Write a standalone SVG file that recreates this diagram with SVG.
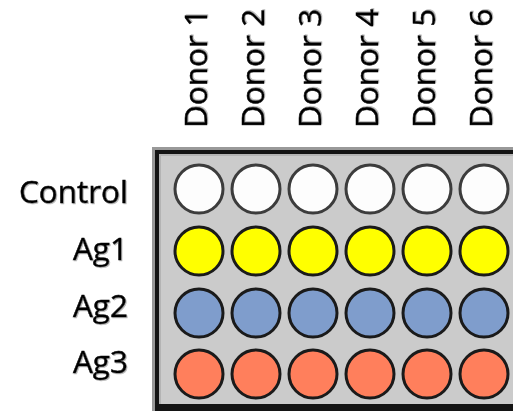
<svg xmlns="http://www.w3.org/2000/svg" width="513" height="411" viewBox="0 0 513 411">
  <style>
    .lbl { font-family: "Open Sans", "Liberation Sans", sans-serif; font-size: 31.5px; fill: #000; stroke: #000; stroke-width: 0.5; filter: url(#soft); }
    .row { text-anchor: end; }
    .well { stroke-width: 3; }
    .ctrl { fill: #fdfdfd; stroke: #3c3c3c; }
    .ag1 { fill: #ffff00; stroke: #1a1a1a; }
    .ag2 { fill: #7f9dcc; stroke: #1a1a1a; }
    .ag3 { fill: #ff7f5c; stroke: #1a1a1a; }
  </style>
  <defs>
    <filter id="soft" x="-10%" y="-10%" width="130%" height="130%">
      <feDropShadow dx="1" dy="1" stdDeviation="0.6" flood-color="#808080" flood-opacity="0.55"/>
    </filter>
    <circle id="w" r="24"/>
  </defs>
  <rect width="513" height="411" fill="#ffffff"/>

  <!-- column headings -->
  <g id="donors">
    <text class="lbl" transform="translate(207,128) rotate(-90)">Donor 1</text>
    <text class="lbl" transform="translate(264,128) rotate(-90)">Donor 2</text>
    <text class="lbl" transform="translate(321,128) rotate(-90)">Donor 3</text>
    <text class="lbl" transform="translate(378,128) rotate(-90)">Donor 4</text>
    <text class="lbl" transform="translate(435,128) rotate(-90)">Donor 5</text>
    <text class="lbl" transform="translate(492,128) rotate(-90)">Donor 6</text>
  </g>

  <!-- row headings -->
  <g id="rows">
    <text class="lbl row" x="128" y="203">Control</text>
    <text class="lbl row" x="128" y="260">Ag1</text>
    <text class="lbl row" x="128" y="317">Ag2</text>
    <text class="lbl row" x="128" y="373">Ag3</text>
  </g>

  <!-- plate frame -->
  <g id="plate">
    <rect x="152" y="147" width="370" height="270" fill="#999999"/>
    <rect x="155" y="150" width="370" height="258" fill="#141414"/>
    <rect x="159" y="154" width="370" height="250" fill="#b4b4b4"/>
    <rect x="161" y="156" width="370" height="248" fill="#cbcbcb"/>
    <rect x="155" y="408" width="370" height="3" fill="#141414"/>
  </g>

  <!-- wells -->
  <g id="wells-control" class="well ctrl">
    <use href="#w" x="199" y="189"/><use href="#w" x="256" y="189"/><use href="#w" x="313" y="189"/>
    <use href="#w" x="370" y="189"/><use href="#w" x="427" y="189"/><use href="#w" x="484" y="189"/>
  </g>
  <g id="wells-ag1" class="well ag1">
    <use href="#w" x="199" y="251"/><use href="#w" x="256" y="251"/><use href="#w" x="313" y="251"/>
    <use href="#w" x="370" y="251"/><use href="#w" x="427" y="251"/><use href="#w" x="484" y="251"/>
  </g>
  <g id="wells-ag2" class="well ag2">
    <use href="#w" x="199" y="313"/><use href="#w" x="256" y="313"/><use href="#w" x="313" y="313"/>
    <use href="#w" x="370" y="313"/><use href="#w" x="427" y="313"/><use href="#w" x="484" y="313"/>
  </g>
  <g id="wells-ag3" class="well ag3">
    <use href="#w" x="199" y="374"/><use href="#w" x="256" y="374"/><use href="#w" x="313" y="374"/>
    <use href="#w" x="370" y="374"/><use href="#w" x="427" y="374"/><use href="#w" x="484" y="374"/>
  </g>
</svg>
